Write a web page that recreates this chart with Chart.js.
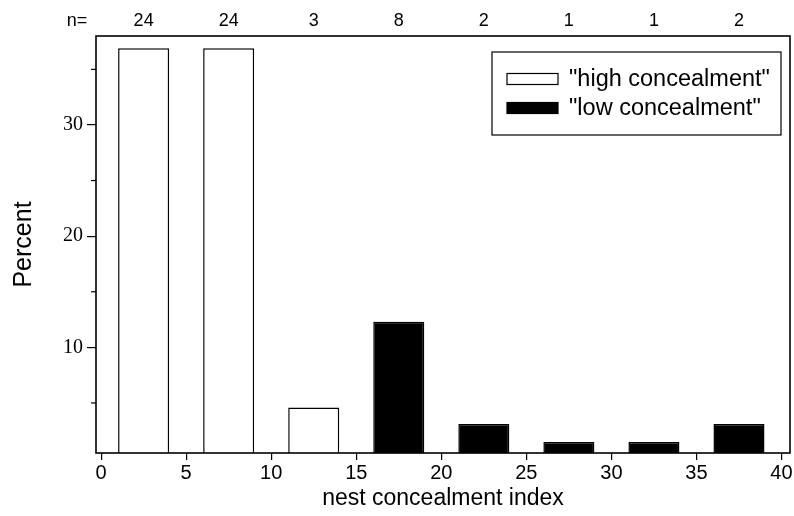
<!DOCTYPE html>
<html>
<head>
<meta charset="utf-8">
<script src="https://cdn.jsdelivr.net/npm/chart.js@4.4.1/dist/chart.umd.min.js"></script>
<style>
html,body{margin:0;background:#fff}
#wrap{width:794px;height:516px}
</style>
</head>
<body>
<div id="wrap"><canvas id="c"></canvas></div>
<script>
// bin centres on the concealment index, n per bin, percent of nests
const centers=[2.5,7.5,12.5,17.5,22.5,27.5,32.5,37.5]
const counts=[24,24,3,8,2,1,1,2]
const highPct=[36.9,36.9,4.6]
const lowPct=[12.3,3.1,1.5,1.5,3.1]
const xTicks=[0,5,10,15,20,25,30,35,40]
const yTicks=[10,20,30]
const yMinor=[5,15,25,35]

const sans="'Liberation Sans', Arial, sans-serif"
const serif="'Liberation Serif', 'Times New Roman', serif"

const highData=highPct.map((v,i)=>({x:centers[i],y:v}))
const lowData=lowPct.map((v,i)=>({x:centers[i+highPct.length],y:v}))

const extras={
  id:"extras",
  afterDraw(chart){
    const ctx=chart.ctx, a=chart.chartArea, xs=chart.scales.x, ys=chart.scales.y
    ctx.save()
    ctx.strokeStyle="#000"
    ctx.lineWidth=1.6
    ctx.strokeRect(a.left,a.top,a.right-a.left,a.bottom-a.top)
    // minor ticks on the y axis
    ctx.lineWidth=1.2
    yMinor.forEach(v=>{
      const y=ys.getPixelForValue(v)
      ctx.beginPath();ctx.moveTo(a.left-5,y);ctx.lineTo(a.left,y);ctx.stroke()
    })
    // n= row above the frame
    ctx.fillStyle="#000"
    ctx.font="18px "+sans
    ctx.textAlign="center"
    ctx.textBaseline="middle"
    ctx.fillText("n=",77,21)
    counts.forEach((n,i)=>ctx.fillText(String(n),xs.getPixelForValue(centers[i]),21))
    // legend box
    const lx=492, ly=52, lw=289, lh=83
    ctx.lineWidth=1.2
    ctx.strokeRect(lx,ly,lw,lh)
    ctx.font="23.5px "+sans
    ctx.textAlign="left"
    chart.data.datasets.forEach((ds,i)=>{
      const cy=79+i*29
      ctx.fillStyle=ds.backgroundColor
      ctx.fillRect(507,cy-5.5,51,11)
      ctx.lineWidth=1.2
      ctx.strokeRect(507,cy-5.5,51,11)
      ctx.fillStyle="#000"
      ctx.fillText(ds.label,569,cy+1)
    })
    ctx.restore()
  }
}

new Chart(document.getElementById("c"),{
  type:"bar",
  data:{
    datasets:[
      {label:'"high concealment"',data:highData,backgroundColor:"#fff",borderColor:"#000",borderWidth:1.5,grouped:false,barPercentage:0.6,categoryPercentage:1},
      {label:'"low concealment"',data:lowData,backgroundColor:"#000",borderColor:"#000",borderWidth:1.5,grouped:false,barPercentage:0.6,categoryPercentage:1}
    ]
  },
  options:{
    responsive:true,
    maintainAspectRatio:false,
    animation:false,
    layout:{padding:{top:36,right:4,left:0,bottom:0}},
    plugins:{legend:{display:false},tooltip:{enabled:false}},
    scales:{
      x:{
        type:"linear",min:-0.3,max:40.5,offset:false,
        afterBuildTicks:s=>{s.ticks=xTicks.map(v=>({value:v}))},
        afterFit:s=>{s.height=63},
        grid:{drawOnChartArea:false,offset:false,tickLength:7,color:"#000",lineWidth:1.2},
        border:{display:false},
        ticks:{color:"#000",font:{family:sans,size:20},padding:1,maxRotation:0},
        title:{display:true,text:"nest concealment index",color:"#000",font:{family:sans,size:23},padding:{top:0,bottom:4}}
      },
      y:{
        min:0.5,max:38,
        afterBuildTicks:s=>{s.ticks=yTicks.map(v=>({value:v}))},
        afterFit:s=>{s.width=96},
        grid:{drawOnChartArea:false,tickLength:9,color:"#000",lineWidth:1.2},
        border:{display:false},
        ticks:{color:"#000",font:{family:serif,size:20},padding:4},
        title:{display:true,text:"Percent",color:"#000",font:{family:sans,size:25},padding:{top:9,bottom:0}}
      }
    }
  },
  plugins:[extras]
})
</script>
</body>
</html>
